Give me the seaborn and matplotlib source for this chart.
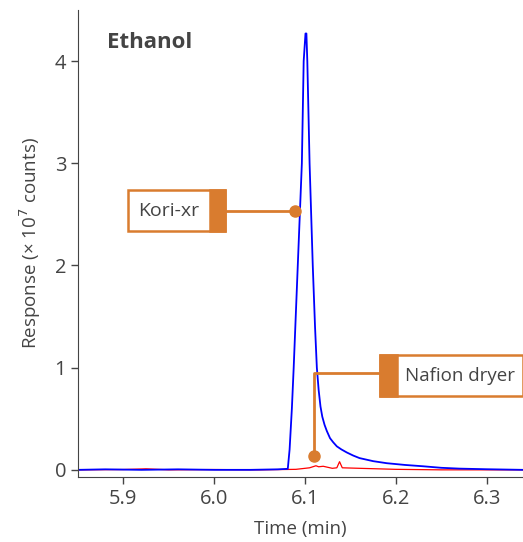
import matplotlib
matplotlib.use("Agg")
import matplotlib.pyplot as plt
import seaborn as sns
import pandas as pd
from matplotlib.patches import Rectangle
from matplotlib.lines import Line2D

# chromatogram traces (time in min, response in 1e7 counts)
kori_time = [5.85, 5.88, 5.92, 5.96, 6.00, 6.04, 6.07, 6.081, 6.083, 6.0855, 6.0875,
             6.092, 6.0965, 6.0985, 6.1005, 6.1015, 6.1025, 6.105, 6.1085, 6.111, 6.113,
             6.115, 6.117, 6.119, 6.1215, 6.124, 6.1275, 6.131, 6.135, 6.14, 6.146,
             6.153, 6.16, 6.175, 6.19, 6.21, 6.23, 6.25, 6.27, 6.30, 6.34]
kori_resp = [0.0, 0.005, 0.0, 0.005, 0.0, 0.0, 0.005, 0.01, 0.2, 0.6, 1.0,
             2.0, 3.0, 4.0, 4.27, 4.27, 4.0, 3.0, 2.0, 1.4, 1.0,
             0.78, 0.62, 0.52, 0.44, 0.38, 0.31, 0.27, 0.23, 0.2, 0.17,
             0.14, 0.115, 0.085, 0.065, 0.048, 0.035, 0.02, 0.012, 0.006, 0.0]

nafion_time = [5.85, 5.90, 5.925, 5.95, 6.00, 6.05, 6.09, 6.105, 6.112, 6.115, 6.12,
               6.13, 6.135, 6.138, 6.141, 6.16, 6.20, 6.25, 6.34]
nafion_resp = [0.0, 0.003, 0.01, 0.0, 0.003, 0.0, 0.005, 0.02, 0.04, 0.03, 0.035,
               0.015, 0.02, 0.08, 0.02, 0.015, 0.005, 0.0, 0.0]

x_ticks = [5.9, 6.0, 6.1, 6.2, 6.3]
y_ticks = [0, 1, 2, 3, 4]

ORANGE = "#d97c2f"
TEXT = "#444444"

sns.set_style("ticks")
plt.rcParams["font.family"] = ["Open Sans", "DejaVu Sans"]

W, H = 523, 542
fig = plt.figure(figsize=(W / 100, H / 100), dpi=100)
ax = fig.add_axes([78 / W, 1 - 477 / H, 445 / W, 467 / H])

kori = pd.DataFrame({"t": kori_time, "r": kori_resp})
nafion = pd.DataFrame({"t": nafion_time, "r": nafion_resp})
sns.lineplot(data=nafion, x="t", y="r", ax=ax, color="#ff0000", linewidth=0.9)
sns.lineplot(data=kori, x="t", y="r", ax=ax, color="#0000ff", linewidth=1.3)

ax.set_xlim(5.85, 6.34)
ax.set_ylim(-0.07, 4.5)
ax.set_xticks(x_ticks)
ax.set_xticklabels([f"{v:.1f}" for v in x_ticks])
ax.set_yticks(y_ticks)
ax.tick_params(labelsize=14.5, colors=TEXT, length=5, width=1)
ax.set_xlabel("Time (min)", fontsize=13.5, color=TEXT, labelpad=8)
ax.set_ylabel("Response (× 10$^7$ counts)", fontsize=13.5, color=TEXT, labelpad=8)
sns.despine(ax=ax)
for s in ["left", "bottom"]:
    ax.spines[s].set_color(TEXT)


# callouts, placed in pixel coordinates of the figure
def fx(x):
    return x / W


def fy(y):
    return 1 - y / H


fig.text(fx(107), fy(43), "Ethanol", fontsize=16, fontweight="bold", color=TEXT,
         va="center", ha="left")


def box(x0, y0, x1, y1, tab0, tab1):
    fig.add_artist(Rectangle((fx(x0), fy(y1)), fx(x1) - fx(x0), fy(y0) - fy(y1),
                             transform=fig.transFigure, facecolor="white",
                             edgecolor=ORANGE, linewidth=1.8, zorder=5))
    fig.add_artist(Rectangle((fx(tab0), fy(y1)), fx(tab1) - fx(tab0), fy(y0) - fy(y1),
                             transform=fig.transFigure, facecolor=ORANGE,
                             edgecolor=ORANGE, linewidth=1.8, zorder=6))


def leader(xs, ys):
    fig.add_artist(Line2D([fx(v) for v in xs], [fy(v) for v in ys],
                          transform=fig.transFigure, color=ORANGE, linewidth=2, zorder=5))
    fig.add_artist(Line2D([fx(xs[-1])], [fy(ys[-1])], transform=fig.transFigure,
                          marker="o", markersize=8, color=ORANGE, zorder=6))


box(128, 190, 225, 231, 210, 225)
leader([225, 295], [211, 211])
fig.text(fx(169), fy(211), "Kori-xr", fontsize=14, color=TEXT, ha="center",
         va="center", zorder=7)

box(380, 355, 523, 396, 380, 397)
leader([380, 314, 314], [373, 373, 456])
fig.text(fx(405), fy(376), "Nafion dryer", fontsize=13.5, color=TEXT, ha="left",
         va="center", zorder=7)

fig.savefig("out.png", dpi=100)
